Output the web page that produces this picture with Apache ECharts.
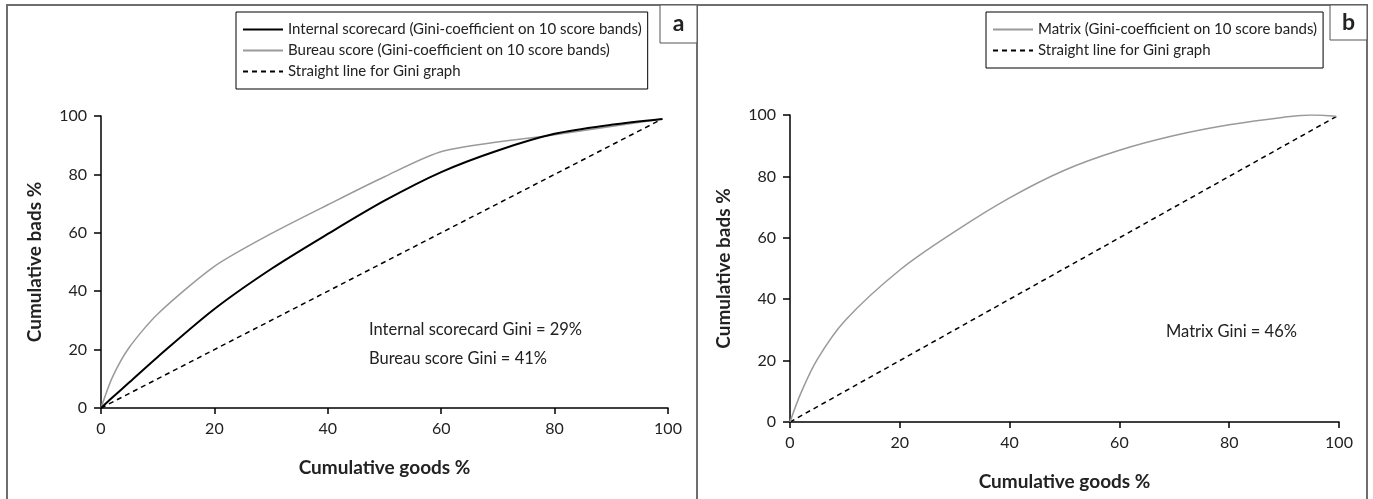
<!DOCTYPE html>
<html>
<head>
<meta charset="utf-8">
<script src="https://cdn.jsdelivr.net/npm/echarts@6/dist/echarts.min.js"></script>
<style>
  html, body { margin: 0; padding: 0; background: #fff; }
  #chart { width: 1373px; height: 499px; }
</style>
</head>
<body>
<div id="chart"></div>
<script>
// Panel a - internal scorecard vs bureau score
const internalGoods = [0, 2, 5, 10, 20, 30, 40, 50, 60, 70, 80, 90, 99];
const internalBads = [0, 3.6, 8.8, 17.5, 33.9, 47.6, 59.6, 71, 80.8, 88.2, 93.9, 97, 99];
const bureauGoods = [0, 2, 5, 10, 20, 30, 40, 50, 60.4, 80, 99];
const bureauBads = [0, 10.5, 20.8, 32.2, 48.5, 59.7, 69.6, 79.2, 88, 93.6, 99];
const straightA = [[0, 0], [99, 99]];

// Panel b - matrix
const matrixGoods = [0, 2, 5, 10, 20, 30, 40, 50, 60, 70, 80, 90, 95, 99.5];
const matrixBads = [0, 9.5, 20.5, 33, 49.5, 62, 73, 82, 88.5, 93.3, 96.8, 99.3, 100, 99.6];
const straightB = [[0, 0], [99.5, 99.5]];

const giniNotes = ["Internal scorecard Gini = 29%", "Bureau score Gini = 41%", "Matrix Gini = 46%"];

const FONT = "Lato";
const pairs = (xs, ys) => xs.map((x, i) => [x, ys[i]]);

function xAxisFor(gridIndex) {
  return {
    type: "value", gridIndex, min: 0, max: 100, interval: 20,
    name: "Cumulative goods %", nameLocation: "middle", nameGap: 50,
    nameTextStyle: { fontFamily: FONT, fontSize: 19, fontWeight: "bold", color: "#222" },
    axisLine: { lineStyle: { color: "#000", width: 1.5 } },
    axisTick: { show: true, length: 6, lineStyle: { color: "#000", width: 1.5 } },
    axisLabel: { fontFamily: FONT, fontSize: 16, color: "#222", margin: 13 },
    splitLine: { show: false }
  };
}

function yAxisFor(gridIndex) {
  return {
    type: "value", gridIndex, min: 0, max: 100, interval: 20,
    name: "Cumulative bads %", nameLocation: "middle", nameGap: 57,
    nameTextStyle: { fontFamily: FONT, fontSize: 19, fontWeight: "bold", color: "#222" },
    axisLine: { show: true, lineStyle: { color: "#000", width: 1.5 } },
    axisTick: { show: true, length: 7, lineStyle: { color: "#000", width: 1.5 } },
    axisLabel: { fontFamily: FONT, fontSize: 16, color: "#222", margin: 14 },
    splitLine: { show: false }
  };
}

function lineSeries(name, idx, data, color, width, dashed, smooth) {
  return {
    type: "line", name, xAxisIndex: idx, yAxisIndex: idx, data,
    symbol: "none", smooth,
    lineStyle: { color, width, type: dashed ? [5, 4] : "solid" },
    itemStyle: { color },
    silent: true, animation: false
  };
}

const legendBase = {
  orient: "vertical", top: 12, itemWidth: 40, itemHeight: 14, itemGap: 6,
  borderColor: "#000", borderWidth: 1, padding: [10, 6, 10, 6],
  itemStyle: { opacity: 0 },
  textStyle: { fontFamily: FONT, fontSize: 15, color: "#222" },
  selectedMode: false
};

function panelLabel(x, w, h, txt) {
  return [
    { type: "rect", shape: { x, y: 5, width: w, height: h }, style: { fill: "#fff", stroke: "#555", lineWidth: 1 } },
    { type: "text", x: x + w / 2, y: 5 + h / 2, style: { text: txt, font: "bold 23px " + FONT, fill: "#222", align: "center", verticalAlign: "middle" } }
  ];
}

const chart = echarts.init(document.getElementById("chart"));
chart.setOption({
  backgroundColor: "#fff",
  grid: [
    { left: 101, top: 116, width: 567, height: 292 },
    { left: 790, top: 115, width: 549, height: 307 }
  ],
  xAxis: [xAxisFor(0), xAxisFor(1)],
  yAxis: [yAxisFor(0), yAxisFor(1)],
  legend: [
    Object.assign({}, legendBase, { left: 236, data: ["Internal scorecard (Gini-coefficient on 10 score bands)", "Bureau score (Gini-coefficient on 10 score bands)", "Straight line for Gini graph"] }),
    Object.assign({}, legendBase, { left: 986, data: ["Matrix (Gini-coefficient on 10 score bands)", "Straight line for Gini graph "] })
  ],
  series: [
    lineSeries("Straight line for Gini graph", 0, straightA, "#000", 1.5, true, false),
    lineSeries("Bureau score (Gini-coefficient on 10 score bands)", 0, pairs(bureauGoods, bureauBads), "#9a9a9a", 1.5, false, 0.25),
    lineSeries("Internal scorecard (Gini-coefficient on 10 score bands)", 0, pairs(internalGoods, internalBads), "#000", 2, false, 0.3),
    lineSeries("Straight line for Gini graph ", 1, straightB, "#000", 1.5, true, false),
    lineSeries("Matrix (Gini-coefficient on 10 score bands)", 1, pairs(matrixGoods, matrixBads), "#9a9a9a", 1.5, false, 0.35)
  ],
  graphic: [
    // panel frames
    { type: "polyline", shape: { points: [[7, 499], [7, 5], [1367, 5], [1367, 499]] }, style: { stroke: "#6e6e6e", lineWidth: 2, fill: null } },
    { type: "line", shape: { x1: 697, y1: 5, x2: 697, y2: 499 }, style: { stroke: "#6e6e6e", lineWidth: 2 } },
    ...panelLabel(660, 37, 38, "a"),
    ...panelLabel(1330, 37, 35, "b"),
    { type: "text", x: 369, y: 330, style: { text: giniNotes[0], font: "16.5px " + FONT, fill: "#222", verticalAlign: "middle" } },
    { type: "text", x: 369, y: 359, style: { text: giniNotes[1], font: "16.5px " + FONT, fill: "#222", verticalAlign: "middle" } },
    { type: "text", x: 1166, y: 332, style: { text: giniNotes[2], font: "16.5px " + FONT, fill: "#222", verticalAlign: "middle" } }
  ]
});
</script>
</body>
</html>
